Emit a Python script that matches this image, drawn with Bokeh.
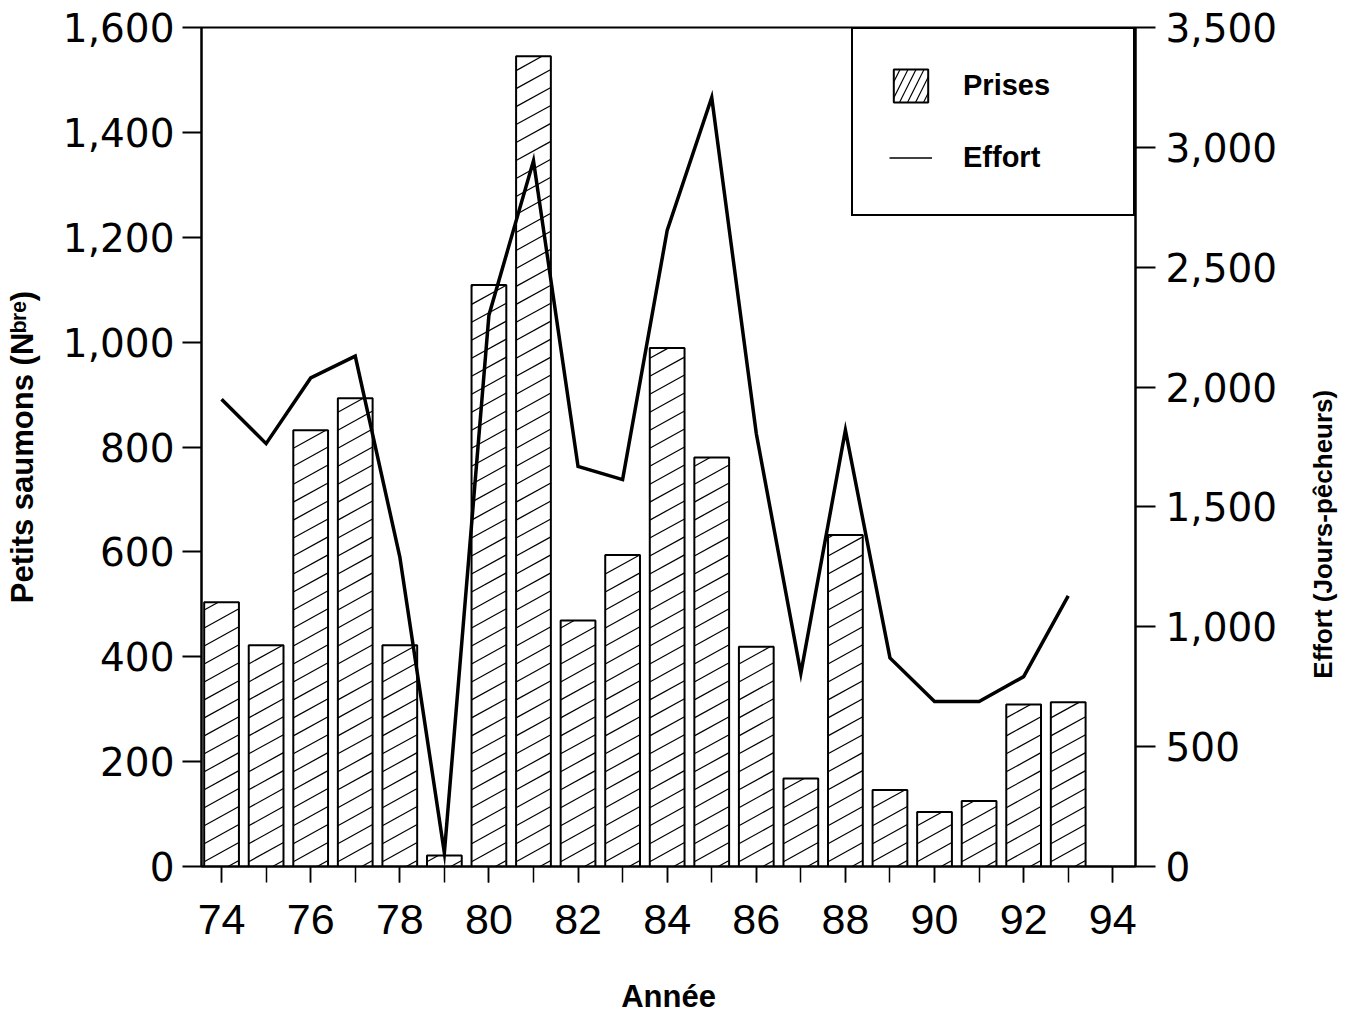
import math
from bokeh.plotting import figure
from bokeh.models import (Range1d, LinearAxis, FixedTicker, NumeralTickFormatter,
                          Legend, LegendItem)
from bokeh.embed import file_html
from bokeh.resources import INLINE

# ---------------- data ----------------
years = list(range(74, 94))
prises = [504, 422, 832, 893, 422, 21, 1109, 1545, 469, 594,
          989, 780, 419, 168, 632, 146, 104, 125, 309, 313]
effort = [1949, 1764, 2038, 2129, 1292, 57, 2300, 2944, 1669, 1614,
          2653, 3208, 1806, 806, 1820, 870, 688, 688, 792, 1129]
x_ticks = list(range(74, 95, 2))
x_minor_ticks = list(range(74, 95))
left_ticks = list(range(0, 1601, 200))
right_ticks = list(range(0, 3501, 500))

# ---------------- layout ----------------
X0, X1 = 73.55, 94.51
Y_MAX = 1600
E_MAX = 3500
W, H = 1355, 1016
BL, BR, BT, BB = 201, 216, 27, 149
FW, FH = W - BL - BR, H - BT - BB
BAR_W = 0.78
RT_LIFT = 26      # non-breaking spaces lifting the right title off the frame bottom

p = figure(width=W, height=H,
           x_range=Range1d(X0, X1), y_range=Range1d(0, Y_MAX),
           output_backend="svg", toolbar_location=None,
           min_border_left=BL, min_border_right=BR,
           min_border_top=BT, min_border_bottom=BB)
p.extra_y_ranges = {"effort": Range1d(0, E_MAX)}
p.xgrid.visible = False
p.ygrid.visible = False
p.outline_line_color = "black"
p.outline_line_width = 2
p.outline_line_alpha = 1
p.background_fill_color = "white"
p.border_fill_color = "white"

# ---------------- bars with custom diagonal hatching ----------------
p.vbar(x=years, top=prises, bottom=0, width=BAR_W, fill_color="white",
       line_color="black", line_width=2)

px_x = FW / (X1 - X0)
px_y = FH / Y_MAX
HATCH_GAP = 18.0
HATCH_SLOPE = 0.55
rise = HATCH_SLOPE * BAR_W * px_x
hx0, hy0, hx1, hy1 = [], [], [], []
for yr, v in zip(years, prises):
    h = v * px_y
    xl = yr - BAR_W / 2
    k = -rise + 6.0
    while k < h:
        ts = max(0.0, -k / rise)
        te = min(1.0, (h - k) / rise)
        if te > ts:
            hx0.append(xl + ts * BAR_W)
            hy0.append((k + ts * rise) / px_y)
            hx1.append(xl + te * BAR_W)
            hy1.append((k + te * rise) / px_y)
        k += HATCH_GAP
p.segment(x0=hx0, y0=hy0, x1=hx1, y1=hy1, line_color="black", line_width=1.2)

# ---------------- effort line ----------------
p.line(x=years, y=effort, y_range_name="effort", line_color="black",
       line_width=3.5, line_join="miter")

# ---------------- axes ----------------
def style_axis(ax, font, size, tick_len, standoff):
    ax.axis_line_color = "black"
    ax.axis_line_width = 2
    ax.major_tick_line_color = "black"
    ax.major_tick_line_width = 2
    ax.major_tick_in = 0
    ax.major_tick_out = tick_len
    ax.minor_tick_in = 0
    ax.major_label_text_font = font
    ax.major_label_text_font_size = size
    ax.major_label_text_color = "black"
    ax.major_label_standoff = standoff
    ax.axis_label_text_color = "black"
    ax.axis_label_text_font_style = "bold"
    ax.axis_label_text_font = "Liberation Sans"

yl = p.yaxis[0]
yl.ticker = FixedTicker(ticks=left_ticks)
yl.formatter = NumeralTickFormatter(format="0,0")
style_axis(yl, "DejaVu Sans", "39px", 19, 8)
yl.minor_tick_out = 0
yl.axis_label = "Petits saumons (N\u1d47\u02b3\u1d49)"
yl.axis_label_text_font_size = "31px"
yl.axis_label_standoff = 20

yr_ax = LinearAxis(y_range_name="effort")
yr_ax.ticker = FixedTicker(ticks=right_ticks)
yr_ax.formatter = NumeralTickFormatter(format="0,0")
style_axis(yr_ax, "DejaVu Sans", "39px", 20, 10)
yr_ax.minor_tick_out = 0
p.add_layout(yr_ax, "right")

# title-only axis for the right-hand label, reading bottom-to-top
title_ax = LinearAxis(ticker=FixedTicker(ticks=[]))
title_ax.axis_line_color = None
title_ax.major_tick_line_color = None
title_ax.minor_tick_line_color = None
title_ax.axis_label = "\u00a0" * RT_LIFT + "Effort (Jours-p\u00eacheurs)"
title_ax.axis_label_text_font = "Liberation Sans"
title_ax.axis_label_text_font_style = "bold"
title_ax.axis_label_text_font_size = "26px"
title_ax.axis_label_text_color = "black"
title_ax.axis_label_standoff = 42
title_ax.axis_label_orientation = math.pi / 2
title_ax.axis_label_align = "start"
p.add_layout(title_ax, "right")

xa = p.xaxis[0]
xa.ticker = FixedTicker(ticks=x_ticks, minor_ticks=x_minor_ticks)
style_axis(xa, "Liberation Sans", "43px", 16, 22)
xa.major_tick_line_width = 1.5
xa.minor_tick_line_color = "black"
xa.minor_tick_line_width = 1.5
xa.minor_tick_out = 16
xa.axis_label = "Ann\u00e9e"
xa.axis_label_text_font_size = "31px"
xa.axis_label_standoff = 42

# ---------------- legend ----------------
legend_bar = p.vbar(x=years, top=prises, width=BAR_W, fill_color="white",
                    line_color="black", line_width=2, hatch_pattern="/",
                    hatch_color="black", hatch_weight=1.2, hatch_scale=16,
                    visible=False)
legend_line = p.line(x=years, y=effort, y_range_name="effort",
                     line_color="black", line_width=1.5, visible=False)
legend = Legend(items=[LegendItem(label="Prises", renderers=[legend_bar]),
                       LegendItem(label="Effort", renderers=[legend_line])],
                location="top_right", margin=0, padding=36,
                glyph_width=43, glyph_height=41, spacing=31,
                label_standoff=31, label_width=134,
                label_text_font="Liberation Sans", label_text_font_style="bold",
                label_text_font_size="29px", label_text_color="black",
                border_line_color="black", border_line_width=2,
                border_line_alpha=1,
                inactive_fill_alpha=0,
                background_fill_color="white", background_fill_alpha=1)
p.add_layout(legend)

open("out.html", "w").write(file_html(p, INLINE))
